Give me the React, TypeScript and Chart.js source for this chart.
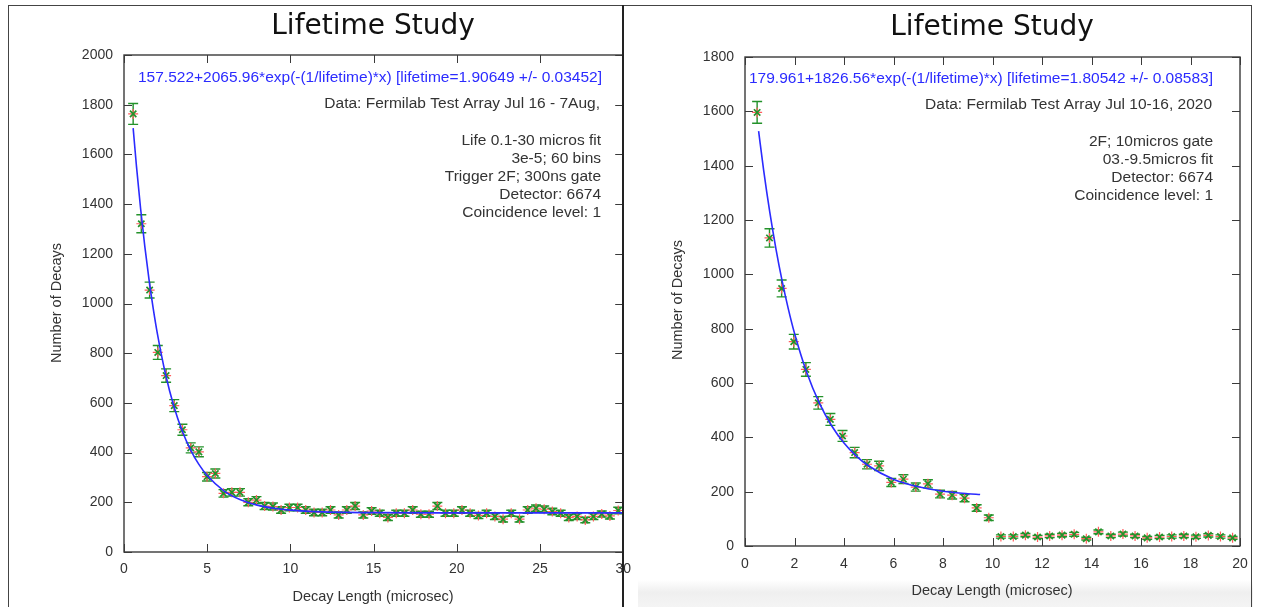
import React, { useEffect, useRef } from "react";
import { Chart, registerables } from "chart.js";

Chart.register(...registerables);

// ---------------- Left chart data (Jul 16 - 7Aug) ----------------
const leftX = [
  0.55, 1.04, 1.54, 2.03, 2.53, 3.02, 3.51, 4.01, 4.5, 4.99,
  5.49, 5.98, 6.48, 6.97, 7.47, 7.96, 8.45, 8.95, 9.44, 9.94,
  10.43, 10.92, 11.42, 11.91, 12.41, 12.9, 13.39, 13.89, 14.38, 14.88,
  15.37, 15.86, 16.36, 16.85, 17.35, 17.84, 18.33, 18.83, 19.32, 19.82,
  20.31, 20.8, 21.3, 21.79, 22.29, 22.78, 23.27, 23.77, 24.26, 24.76,
  25.25, 25.74, 26.24, 26.73, 27.23, 27.72, 28.21, 28.71, 29.2, 29.7,
];
const leftCounts = [
  1763, 1321, 1054, 803, 710, 589, 492, 419, 403, 303,
  316, 236, 240, 240, 200, 209, 185, 183, 169, 179,
  179, 169, 159, 159, 169, 149, 169, 185, 149, 165,
  156, 139, 156, 156, 169, 152, 152, 185, 156, 156,
  169, 156, 147, 156, 143, 132, 156, 132, 169, 176,
  172, 163, 156, 139, 143, 129, 143, 153, 145, 167,
];
const leftErrors = [
  42, 36, 32, 28, 27, 24, 22, 20, 20, 17,
  18, 15, 15, 15, 14, 14, 14, 14, 13, 13,
  13, 13, 13, 13, 13, 12, 13, 14, 12, 13,
  12, 12, 12, 12, 13, 12, 12, 14, 12, 12,
  13, 12, 12, 12, 12, 11, 12, 11, 13, 13,
  13, 13, 12, 12, 12, 11, 12, 12, 12, 13,
];
const leftFitX = [0.55, 0.75, 1, 1.25, 1.5, 1.75, 2, 2.5, 3, 3.5, 4, 4.5, 5, 6, 7, 8, 9, 10, 12, 15, 20, 25, 30];
const leftFitY = [
  1705.7, 1551.6, 1380.4, 1229.9, 1098.1, 982.6, 881.2, 714.3, 585.8, 487.0,
  411.0, 352.5, 307.5, 246.3, 210.1, 188.6, 175.9, 168.4, 161.3, 158.3, 157.6, 157.5, 157.5,
];
const leftTitle = "Lifetime Study";
const leftFormula = "157.522+2065.96*exp(-(1/lifetime)*x) [lifetime=1.90649 +/- 0.03452]";
const leftDataLine = "Data: Fermilab Test Array Jul 16 - 7Aug,";
const leftNotes = [
  "Life 0.1-30 micros fit",
  "3e-5; 60 bins",
  "Trigger 2F; 300ns gate",
  "Detector: 6674",
  "Coincidence level: 1",
];

// ---------------- Right chart data (Jul 10-16, 2020) ----------------
const rightX = [
  0.49, 0.99, 1.48, 1.97, 2.46, 2.96, 3.45, 3.94, 4.43, 4.93,
  5.42, 5.91, 6.4, 6.9, 7.39, 7.88, 8.37, 8.87, 9.36, 9.85,
  10.34, 10.84, 11.33, 11.82, 12.31, 12.81, 13.3, 13.79, 14.28, 14.78,
  15.27, 15.76, 16.25, 16.75, 17.24, 17.73, 18.22, 18.72, 19.21, 19.7,
];
const rightCounts = [
  1596, 1134, 948, 752, 650, 527, 466, 405, 344, 301,
  295, 234, 246, 217, 229, 191, 187, 176, 140, 104,
  35, 35, 40, 33, 37, 40, 43, 27, 52, 37,
  44, 37, 30, 33, 35, 37, 34, 39, 35, 30,
];
const rightErrors = [
  40, 34, 31, 27, 25, 23, 22, 20, 19, 17,
  17, 15, 16, 15, 15, 14, 14, 13, 12, 10,
  6, 6, 6, 6, 6, 6, 7, 5, 7, 6,
  7, 6, 5, 6, 6, 6, 6, 6, 6, 5,
];
const rightFitX = [0.55, 0.75, 1, 1.25, 1.5, 1.75, 2, 2.5, 3, 3.5, 4, 4.5, 5, 6, 7, 8, 9, 9.5];
const rightFitY = [
  1526.9, 1385.7, 1229.7, 1094.0, 975.8, 873.0, 783.3, 637.4, 526.7, 442.8,
  379.3, 331.0, 294.5, 245.8, 217.8, 201.7, 192.5, 189.4,
];
const rightTitle = "Lifetime Study";
const rightFormula = "179.961+1826.56*exp(-(1/lifetime)*x) [lifetime=1.80542 +/- 0.08583]";
const rightDataLine = "Data: Fermilab Test Array Jul 10-16, 2020";
const rightNotes = [
  "2F; 10micros gate",
  "03.-9.5micros fit",
  "Detector: 6674",
  "Coincidence level: 1",
];

const xAxisTitle = "Decay Length (microsec)";
const yAxisTitle = "Number of Decays";

const SANS = '"Liberation Sans", Arial, Helvetica, sans-serif';
const TITLE_FONT = '"DejaVu Sans", "Open Sans", sans-serif';
const GREEN = "#23922a";
const RED = "#ff5c5c";
const BLUE = "#2b2bff";
const TEXT = "#333333";

type PanelCfg = {
  canvasLeft: number;
  width: number;
  height: number;
  xs: number[];
  ys: number[];
  errs: number[];
  fitX: number[];
  fitY: number[];
  xMax: number;
  xStep: number;
  yMax: number;
  yStep: number;
  yAxisWidth: number;
  xAxisHeight: number;
  padTop: number;
  padRight: number;
  xTickPad: number;
  title: string;
  titlePos: [number, number];
  formula: string;
  formulaPos: [number, number];
  dataLine: string;
  dataPos: [number, number];
  notes: string[];
  notesPos: [number, number];
  notesStep: number;
  yTitlePos: [number, number];
  xTitlePos: [number, number];
};

function Panel({ cfg }: { cfg: PanelCfg }) {
  const ref = useRef<HTMLCanvasElement | null>(null);

  useEffect(() => {
    const canvas = ref.current;
    if (!canvas) return;

    const errPlugin = {
      id: "errbars",
      beforeDatasetsDraw(chart: any) {
        const ctx = chart.ctx;
        const xs = chart.scales.x;
        const ys = chart.scales.y;
        ctx.save();
        ctx.strokeStyle = GREEN;
        ctx.lineWidth = 1.4;
        for (let i = 0; i < cfg.xs.length; i++) {
          const px = xs.getPixelForValue(cfg.xs[i]);
          const top = ys.getPixelForValue(cfg.ys[i] + cfg.errs[i]);
          const bot = ys.getPixelForValue(cfg.ys[i] - cfg.errs[i]);
          ctx.beginPath();
          ctx.moveTo(px, top);
          ctx.lineTo(px, bot);
          ctx.moveTo(px - 5, top);
          ctx.lineTo(px + 5, top);
          ctx.moveTo(px - 5, bot);
          ctx.lineTo(px + 5, bot);
          ctx.stroke();
        }
        ctx.restore();
      },
    };

    const framePlugin = {
      id: "frame",
      beforeDatasetsDraw(chart: any) {
        const ctx = chart.ctx;
        const a = chart.chartArea;
        const xs = chart.scales.x;
        const ys = chart.scales.y;
        ctx.save();
        ctx.strokeStyle = "#3a3a3a";
        ctx.lineWidth = 1.4;
        ctx.strokeRect(a.left, a.top, a.right - a.left, a.bottom - a.top);
        ctx.lineWidth = 1;
        ctx.beginPath();
        const tl = 8;
        xs.ticks.forEach((t: any) => {
          const px = Math.round(xs.getPixelForValue(t.value)) + 0.5;
          ctx.moveTo(px, a.bottom);
          ctx.lineTo(px, a.bottom - tl);
          ctx.moveTo(px, a.top);
          ctx.lineTo(px, a.top + tl);
        });
        ys.ticks.forEach((t: any) => {
          const py = Math.round(ys.getPixelForValue(t.value)) + 0.5;
          ctx.moveTo(a.left, py);
          ctx.lineTo(a.left + tl, py);
          ctx.moveTo(a.right, py);
          ctx.lineTo(a.right - tl, py);
        });
        ctx.stroke();
        ctx.restore();
      },
    };

    const textPlugin = {
      id: "texts",
      afterDraw(chart: any) {
        const ctx = chart.ctx;
        ctx.save();
        ctx.textBaseline = "middle";
        ctx.fillStyle = "#111";
        ctx.font = `28px ${TITLE_FONT}`;
        ctx.textAlign = "center";
        ctx.fillText(cfg.title, cfg.titlePos[0], cfg.titlePos[1]);
        ctx.font = `15.5px ${SANS}`;
        ctx.textAlign = "right";
        ctx.fillStyle = BLUE;
        ctx.fillText(cfg.formula, cfg.formulaPos[0], cfg.formulaPos[1]);
        ctx.fillStyle = TEXT;
        ctx.fillText(cfg.dataLine, cfg.dataPos[0], cfg.dataPos[1]);
        cfg.notes.forEach((n, i) => {
          ctx.fillText(n, cfg.notesPos[0], cfg.notesPos[1] + i * cfg.notesStep);
        });
        ctx.font = `14.5px ${SANS}`;
        ctx.textAlign = "center";
        ctx.fillText(xAxisTitle, cfg.xTitlePos[0], cfg.xTitlePos[1]);
        ctx.translate(cfg.yTitlePos[0], cfg.yTitlePos[1]);
        ctx.rotate(-Math.PI / 2);
        ctx.fillText(yAxisTitle, 0, 0);
        ctx.restore();
      },
    };

    const tickFont = { family: SANS, size: 14 };
    const plain = (v: any) => String(v);

    const chart = new Chart(canvas, {
      type: "scatter",
      data: {
        datasets: [
          {
            type: "line",
            label: "fit",
            data: cfg.fitX.map((x, i) => ({ x, y: cfg.fitY[i] })),
            borderColor: BLUE,
            borderWidth: 1.6,
            pointRadius: 0,
            fill: false,
            cubicInterpolationMode: "monotone",
          } as any,
          {
            label: "counts",
            data: cfg.xs.map((x, i) => ({ x, y: cfg.ys[i] })),
            pointStyle: "crossRot",
            pointRadius: 4.5,
            borderColor: GREEN,
            backgroundColor: GREEN,
            pointBorderWidth: 1.7,
          },
          {
            label: "counts-red",
            data: cfg.xs.map((x, i) => ({ x, y: cfg.ys[i] })),
            pointStyle: "cross",
            pointRadius: 5,
            borderColor: RED,
            backgroundColor: RED,
            pointBorderWidth: 1.2,
          },
        ],
      },
      options: {
        animation: false,
        responsive: false,
        devicePixelRatio: 1,
        layout: {
          autoPadding: false,
          padding: { top: cfg.padTop, right: cfg.padRight, left: 0, bottom: 0 },
        },
        plugins: {
          legend: { display: false },
          tooltip: { enabled: false },
          title: { display: false },
        },
        scales: {
          x: {
            type: "linear",
            min: 0,
            max: cfg.xMax,
            afterFit: (s: any) => {
              s.height = cfg.xAxisHeight;
            },
            grid: { display: false, drawTicks: false },
            border: { display: false },
            ticks: {
              stepSize: cfg.xStep,
              padding: cfg.xTickPad,
              color: TEXT,
              font: tickFont,
              maxRotation: 0,
              autoSkip: false,
              callback: plain,
            },
          },
          y: {
            type: "linear",
            min: 0,
            max: cfg.yMax,
            afterFit: (s: any) => {
              s.width = cfg.yAxisWidth;
            },
            grid: { display: false, drawTicks: false },
            border: { display: false },
            ticks: {
              stepSize: cfg.yStep,
              padding: 11,
              color: TEXT,
              font: tickFont,
              autoSkip: false,
              callback: plain,
            },
          },
        },
      } as any,
      plugins: [framePlugin, errPlugin, textPlugin],
    });

    return () => chart.destroy();
  }, [cfg]);

  return (
    <canvas
      ref={ref}
      width={cfg.width}
      height={cfg.height}
      style={{
        position: "absolute",
        left: cfg.canvasLeft,
        top: 0,
        width: cfg.width,
        height: cfg.height,
      }}
    />
  );
}

const leftCfg: PanelCfg = {
  canvasLeft: 0,
  width: 640,
  height: 607,
  xs: leftX,
  ys: leftCounts,
  errs: leftErrors,
  fitX: leftFitX,
  fitY: leftFitY,
  xMax: 30,
  xStep: 5,
  yMax: 2000,
  yStep: 200,
  yAxisWidth: 124,
  xAxisHeight: 55,
  padTop: 55,
  padRight: 12,
  xTickPad: 9,
  title: leftTitle,
  titlePos: [373, 27],
  formula: leftFormula,
  formulaPos: [602, 78],
  dataLine: leftDataLine,
  dataPos: [600, 104],
  notes: leftNotes,
  notesPos: [601, 141],
  notesStep: 18,
  yTitlePos: [57, 303],
  xTitlePos: [373, 597],
};

const rightCfg: PanelCfg = {
  canvasLeft: 640,
  width: 621,
  height: 607,
  xs: rightX,
  ys: rightCounts,
  errs: rightErrors,
  fitX: rightFitX,
  fitY: rightFitY,
  xMax: 20,
  xStep: 2,
  yMax: 1800,
  yStep: 200,
  yAxisWidth: 105,
  xAxisHeight: 61,
  padTop: 57,
  padRight: 21,
  xTickPad: 10,
  title: rightTitle,
  titlePos: [352, 28],
  formula: rightFormula,
  formulaPos: [573, 79],
  dataLine: rightDataLine,
  dataPos: [572, 105],
  notes: rightNotes,
  notesPos: [573, 142],
  notesStep: 18,
  yTitlePos: [38, 300],
  xTitlePos: [352, 591],
};

export default function App() {
  return (
    <div
      style={{
        position: "fixed",
        left: 0,
        top: 0,
        width: 1261,
        height: 607,
        background: "#ffffff",
        overflow: "hidden",
      }}
    >
      <div
        style={{
          position: "absolute",
          left: 638,
          top: 580,
          width: 615,
          height: 27,
          background: "linear-gradient(#ffffff, #efefef 45%, #f4f4f4)",
        }}
      />
      <Panel cfg={leftCfg} />
      <Panel cfg={rightCfg} />
      <div
        style={{
          position: "absolute",
          left: 8,
          top: 5,
          width: 1244,
          height: 640,
          borderTop: "1.5px solid #444",
          borderLeft: "1.5px solid #444",
          borderRight: "1.5px solid #444",
          boxSizing: "border-box",
          pointerEvents: "none",
        }}
      />
      <div
        style={{
          position: "absolute",
          left: 622,
          top: 5,
          width: 1.5,
          height: 602,
          background: "#222",
        }}
      />
    </div>
  );
}
